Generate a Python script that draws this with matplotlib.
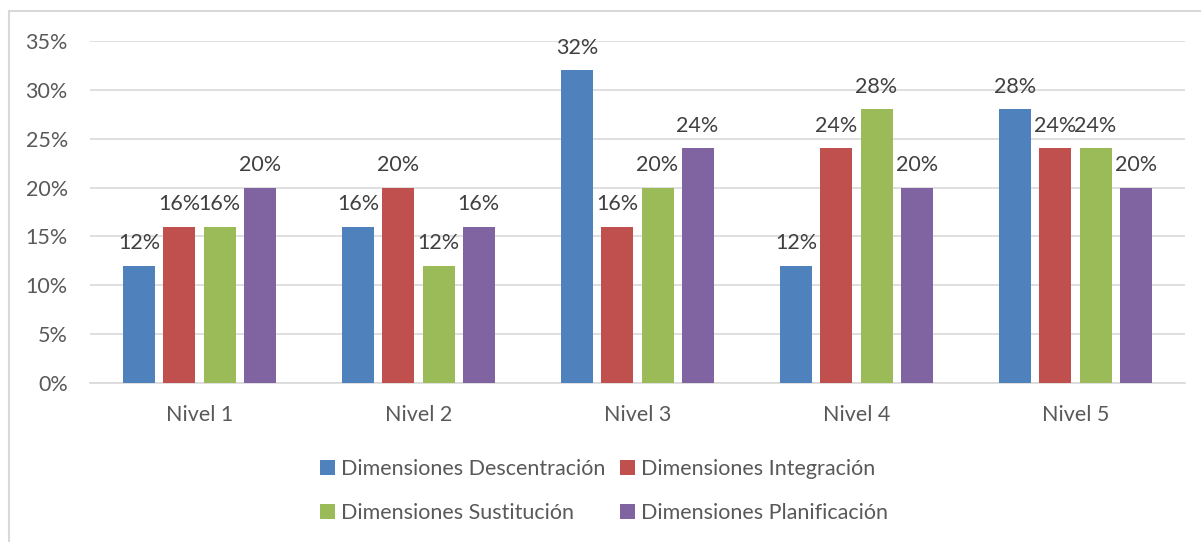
import matplotlib.pyplot as plt
import numpy as np

# datos
niveles = ["Nivel 1", "Nivel 2", "Nivel 3", "Nivel 4", "Nivel 5"]
series = ["Dimensiones Descentración", "Dimensiones Integración",
          "Dimensiones Sustitución", "Dimensiones Planificación"]
descentracion = [12, 16, 32, 12, 28]
integracion = [16, 20, 16, 24, 24]
sustitucion = [16, 12, 20, 28, 24]
planificacion = [20, 16, 24, 20, 20]
yticks = [0, 5, 10, 15, 20, 25, 30, 35]

colores = ["#4F81BD", "#C0504D", "#9BBB59", "#8064A2"]
texto = "#595959"
fs = 15.5
plt.rcParams['font.family'] = ['Lato', 'DejaVu Sans']

fig = plt.figure(figsize=(12.01, 5.42), dpi=100)
ax = fig.add_axes([90 / 1201, 1 - 383 / 542, 1095 / 1201, 342 / 542])

# marco exterior del gráfico
fig.patches.append(plt.Rectangle((9 / 1201, -0.1), 1.2, 1 - 11 / 542 + 0.1,
                                 transform=fig.transFigure, fill=False,
                                 edgecolor="#D9D9D9", linewidth=1.5))

x = np.arange(len(niveles))
ancho = 0.146
paso = 0.183
datos = [descentracion, integracion, sustitucion, planificacion]
for i, (nombre, vals) in enumerate(zip(series, datos)):
    pos = x + (i - 1.5) * paso
    barras = ax.bar(pos, vals, ancho, color=colores[i], label=nombre, zorder=3)
    for b, v in zip(barras, vals):
        ax.annotate(f"{v}%", (b.get_x() + b.get_width() / 2, v),
                    xytext=(0, 9), textcoords="offset points",
                    ha="center", va="bottom", fontsize=fs, color="#404040")

ax.set_xlim(-0.5, len(niveles) - 0.5)
ax.set_ylim(0, 35)
ax.set_yticks(yticks)
ax.set_yticklabels([f"{t}%" for t in yticks])
ax.set_xticks(x)
ax.set_xticklabels(niveles)
ax.tick_params(axis="both", length=0, labelsize=fs, labelcolor=texto)
ax.tick_params(axis="y", pad=16)
ax.tick_params(axis="x", pad=16)
ax.grid(axis="y", color="#D9D9D9", linewidth=1.2, zorder=0)
for s in ["top", "right", "left"]:
    ax.spines[s].set_visible(False)
ax.spines["bottom"].set_color("#D9D9D9")
ax.spines["bottom"].set_linewidth(1.2)

# orden por filas: Descentración, Integración / Sustitución, Planificación
handles, labels = ax.get_legend_handles_labels()
orden = [0, 2, 1, 3]
fig.legend([handles[i] for i in orden], [labels[i] for i in orden],
           loc="upper left", bbox_to_anchor=(301 / 1201, 1 - 440 / 542),
           ncol=2, frameon=False, fontsize=fs, handlelength=0.7,
           handleheight=0.7, handletextpad=0.25, columnspacing=0.7,
           labelspacing=1.1, labelcolor=texto)

fig.savefig("out.png", dpi=100)
